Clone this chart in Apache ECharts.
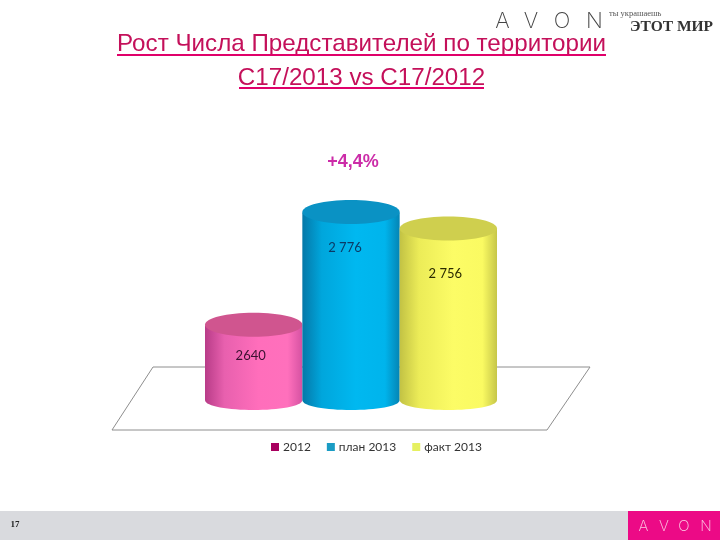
<!DOCTYPE html>
<html><head><meta charset="utf-8">
<style>html,body{margin:0;padding:0;background:#fff}#c{width:720px;height:540px}</style>
<script src="https://cdn.jsdelivr.net/npm/echarts@6/dist/echarts.min.js"></script>
</head><body><div id="c"></div>
<script>
const categories = ["2012", "план 2013", "факт 2013"];
const seriesNames = ["2012", "план 2013", "факт 2013"];
const values = [2640, 2776, 2756];
const valueLabels = ["2640", "2 776", "2 756"];
const growthLabel = "+4,4%";
const titleLines = ["Рост Числа Представителей по территории", "С17/2013 vs С17/2012"];
const pageNumber = "17";

const palettes = [
  {legend:"#A8005F", top:"#D0558F", stops:["#B83C88","#E860AE","#FF6EBB","#FF70BC","#D552A2"], text:"#3A1030"},
  {legend:"#1A9CC4", top:"#0A92C4", stops:["#0578A8","#00A6DC","#00B8F0","#00B4EC","#0484B4"], text:"#0B3A66"},
  {legend:"#E6F060", top:"#CFCF4E", stops:["#C2C244","#ECEC58","#FCFC66","#FAFA62","#C6C648"], text:"#2A2A00"}
];
const ry = 12;
const bottomDrop = 10;
const labelOffsets = [[-3, 31], [-6, 35], [-3, 45]];

function cylinder(params, api) {
  const i = params.seriesIndex;
  const pal = palettes[i];
  const top = api.coord([api.value(0), api.value(1)]);
  const base = api.coord([api.value(0), 2550]);
  const w = api.size([1, 0])[0];
  const rx = w / 2;
  const cx = top[0];
  const c = bottomDrop * 4 / 3;
  const path = `M${cx-rx} ${top[1]}L${cx-rx} ${base[1]}C${cx-rx} ${base[1]+c} ${cx+rx} ${base[1]+c} ${cx+rx} ${base[1]}L${cx+rx} ${top[1]}Z`;
  return {
    type: "group",
    children: [
      {type:"path", shape:{pathData:path, layout:"cover", x:cx-rx, y:top[1], width:2*rx, height:base[1]-top[1]+bottomDrop},
       style:{fill:{type:"linear",x:0,y:0,x2:1,y2:0,colorStops:[
         {offset:0,color:pal.stops[0]},{offset:0.2,color:pal.stops[1]},{offset:0.55,color:pal.stops[2]},{offset:0.85,color:pal.stops[3]},{offset:1,color:pal.stops[4]}]}}},
      {type:"ellipse", shape:{cx:cx, cy:top[1]-0.5, rx:rx, ry:ry}, style:{fill:pal.top}},
      {type:"text", style:{text:valueLabels[i], x:cx+labelOffsets[i][0], y:top[1]+labelOffsets[i][1],
        align:"center", verticalAlign:"middle", font:"13px Lato, 'Open Sans', sans-serif", fill:pal.text}}
    ]
  };
}

const series = seriesNames.map((n, i) => ({
  type: "custom", name: n, coordinateSystem: "cartesian2d",
  renderItem: cylinder, encode: {x:0, y:1}, z: 5,
  itemStyle: {color: palettes[i].legend},
  data: [[categories[i], values[i]]]
}));

const titleColor = "#C4105A";
const ruleColor = "#E0006A";
const titleFont = "24.2px 'Liberation Sans', Arial, sans-serif";
const logoFont = "200 22px Inter, 'Liberation Sans', sans-serif";
const footFont = "200 15px Inter, 'Liberation Sans', sans-serif";
const txt = (text, x, y, font, fill, align) => ({type:"text", z:6, style:{text, x, y, align:align||"center", verticalAlign:"middle", font, fill}});
const g = [
  {type:"polygon", z:1, shape:{points:[[153,367],[590,367],[547,430],[112,430]]}, style:{fill:"#fff",stroke:"#8E8E8E",lineWidth:1}},
  txt(titleLines[0], 361.5, 44.5, titleFont, titleColor),
  {type:"rect", z:6, shape:{x:117,y:54,width:489,height:2}, style:{fill:ruleColor}},
  txt(titleLines[1], 361.5, 78, titleFont, titleColor),
  {type:"rect", z:6, shape:{x:239,y:87,width:245,height:2}, style:{fill:ruleColor}},
  txt(growthLabel, 353, 162, "bold 18px 'Liberation Sans', Arial, sans-serif", "#CC2CA8"),
  txt("A", 502.5, 21, logoFont, "#444"),
  txt("V", 531, 21, logoFont, "#444"),
  txt("O", 562, 21, logoFont, "#444"),
  txt("N", 594.5, 21, logoFont, "#444"),
  txt("ты украшаешь", 609, 14, "8.5px 'Liberation Serif', serif", "#555", "left"),
  txt("ЭТОТ МИР", 630, 26.5, "bold 15.5px 'Liberation Serif', serif", "#333", "left"),
  {type:"rect", z:0, shape:{x:0,y:511,width:628,height:29}, style:{fill:"#D9DADE"}},
  {type:"rect", z:0, shape:{x:628,y:511,width:92,height:29}, style:{fill:"#EC0A86"}},
  txt("A", 643.5, 526, footFont, "#FBC8E2"),
  txt("V", 664, 526, footFont, "#FBC8E2"),
  txt("O", 684, 526, footFont, "#FBC8E2"),
  txt("N", 706, 526, footFont, "#FBC8E2"),
  txt(pageNumber, 15, 525, "bold 9px 'Liberation Serif', serif", "#222")
];

const chart = echarts.init(document.getElementById("c"), null, {renderer:"canvas"});
chart.setOption({
  animation: false,
  backgroundColor: "#fff",
  grid: {left:205, width:292, top:151, height:249},
  xAxis: {type:"category", data:categories, show:false},
  yAxis: {type:"value", min:2550, max:2850, show:false},
  legend: {data:seriesNames, top:436, left:266, itemWidth:8, itemHeight:8, itemGap:16, icon:"rect",
    textStyle:{fontFamily:"Lato, 'Open Sans', sans-serif", fontSize:12, color:"#333", padding:[0,0,0,-1]}},
  graphic: g,
  series: series
});
</script></body></html>
